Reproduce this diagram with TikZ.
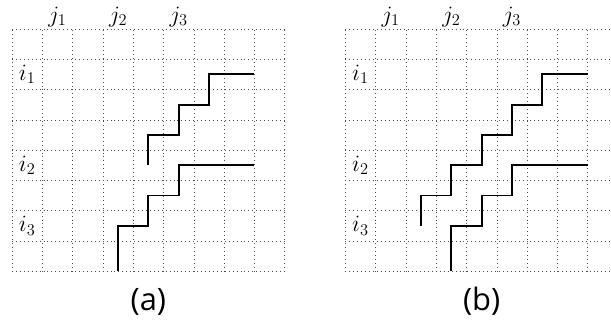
\RequirePackage{fix-cm}
\documentclass[tikz,border=0pt]{standalone}
\usepackage{fontspec}
\newfontfamily\capfont{Open Sans}
\begin{document}
\begin{tikzpicture}[
    dotgrid/.style={line width=0.5pt, black!70, dash pattern=on 0.5pt off 3.2pt},
    stair/.style={line width=1.8pt, line join=miter},
    lab/.style={font=\fontsize{22}{26}\selectfont},
    caplabel/.style={font=\capfont\fontsize{29}{34}\selectfont}]
    \useasboundingbox (-0.396,-1.673) rectangle (19.77,8.953);

    % panel (a)
    \draw[dotgrid] (0,0) grid (9,8);
    \foreach \n/\y in {1/6.5,2/3.5,3/1.5}
        \node[lab] (ia\n) at (0.5,\y) {$i_\n$};
    \foreach \n/\x in {1/1.5,2/3.5,3/5.5}
        \node[lab] (ja\n) at (\x,8.4) {$j_\n$};

    \draw[stair] (4.5,3.5) -- (4.5,4.5) -- (5.5,4.5) -- (5.5,5.5)
        -- (6.5,5.5) -- (6.5,6.5) -- (8,6.5);
    \draw[stair] (3.5,0) -- (3.5,1.5) -- (4.5,1.5) -- (4.5,2.5)
        -- (5.5,2.5) -- (5.5,3.5) -- (8,3.5);
    \node[caplabel] (capa) at (4.5,-1) {(a)};

    % panel (b)
    \begin{scope}[xshift=11cm]
        \draw[dotgrid] (0,0) grid (9,8);
        \foreach \n/\y in {1/6.5,2/3.5,3/1.5}
            \node[lab] (ib\n) at (0.5,\y) {$i_\n$};
        \foreach \n/\x in {1/1.5,2/3.5,3/5.5}
            \node[lab] (jb\n) at (\x,8.4) {$j_\n$};

        \draw[stair] (2.5,1.5) -- (2.5,2.5) -- (3.5,2.5) -- (3.5,3.5)
            -- (4.5,3.5) -- (4.5,4.5) -- (5.5,4.5) -- (5.5,5.5)
            -- (6.5,5.5) -- (6.5,6.5) -- (8,6.5);
        \draw[stair] (3.5,0) -- (3.5,1.5) -- (4.5,1.5) -- (4.5,2.5)
            -- (5.5,2.5) -- (5.5,3.5) -- (8,3.5);
        \node[caplabel] (capb) at (4.5,-1) {(b)};
    \end{scope}
\end{tikzpicture}
\end{document}
